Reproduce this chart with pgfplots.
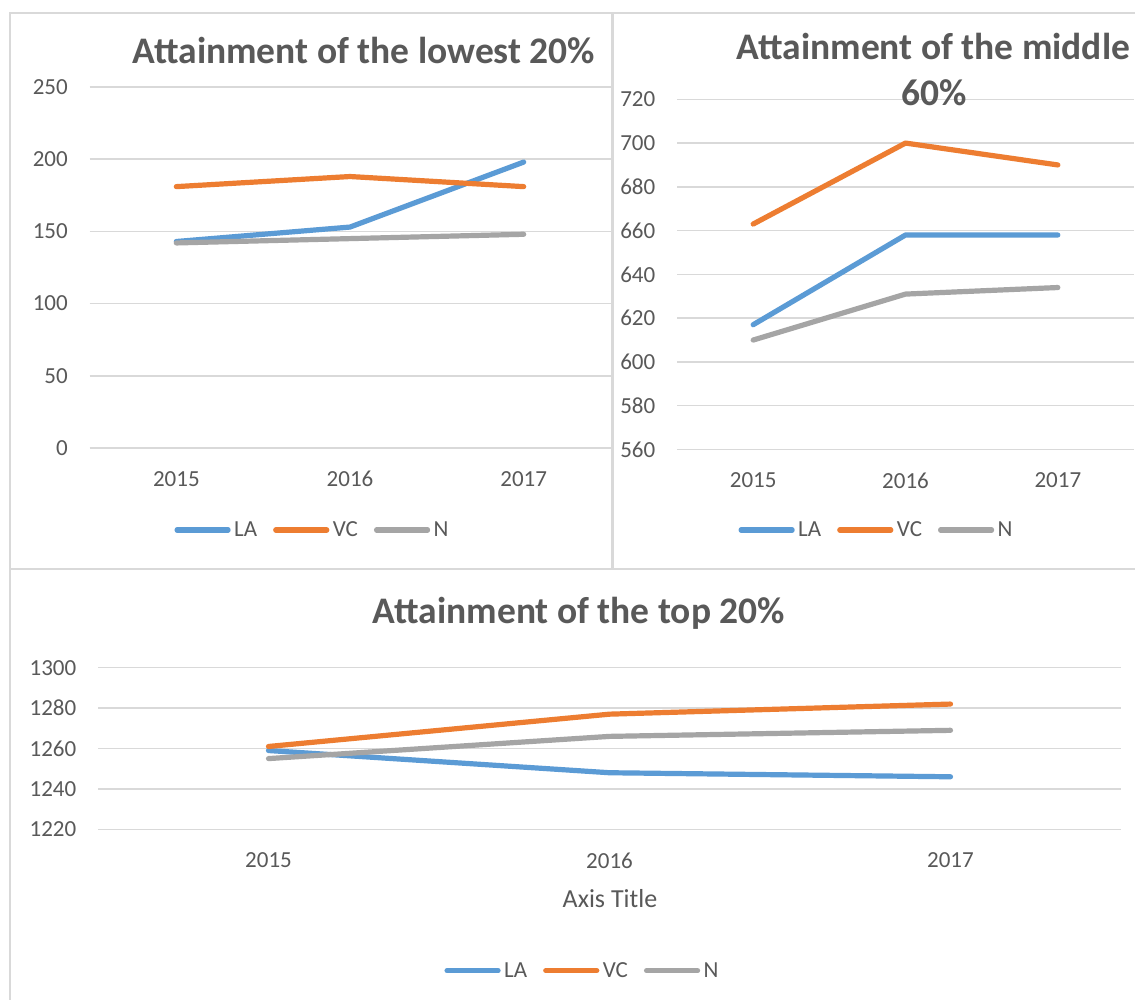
\documentclass[border=0pt]{standalone}
\usepackage{fontspec}
\setmainfont{Carlito}
\usepackage{pgfplots}
\pgfplotsset{compat=1.18}

\definecolor{laBlue}{HTML}{5B9BD5}
\definecolor{vcOrange}{HTML}{ED7D31}
\definecolor{nGray}{HTML}{A5A5A5}
\definecolor{txtGray}{HTML}{595959}
\definecolor{gridGray}{HTML}{D9D9D9}
\definecolor{frameGray}{HTML}{D9D9D9}

\newcommand{\tickfont}{\fontsize{23bp}{27bp}\selectfont}
\newcommand{\titlefont}{\fontsize{37.5bp}{44bp}\selectfont\bfseries}
\newcommand{\labelfont}{\fontsize{26bp}{30bp}\selectfont}

\pgfplotsset{
  legend image code/.code={\draw[#1, line cap=round] (0bp,0bp) -- (51bp,0bp);},
  attain/.style={
    scale only axis, enlargelimits=false,
    xmin=-0.5, xmax=2.5, xtick={0,1,2}, xticklabels={2015,2016,2017},
    axis line style={draw=none}, major tick length=0pt,
    ymajorgrids, grid style={gridGray, line width=1.5bp},
    tick label style={font=\tickfont, text=txtGray},
    yticklabel style={anchor=east, inner sep=0pt, xshift=-21.5bp},
    xticklabel style={anchor=north, inner sep=0pt, yshift=-23bp},
    /pgf/number format/1000 sep={},
    /pgf/number format/assume math mode=true,
    legend columns=3, legend cell align=left,
    legend style={draw=none, fill=none, inner sep=0pt, outer sep=0pt,
      anchor=west, font=\tickfont, text=txtGray, nodes={inner sep=0pt},
      /tikz/every odd column/.style={column sep=3.5bp},
      /tikz/every even column/.style={column sep=16bp}},
    every axis plot/.append style={line width=5.2bp, line cap=round, line join=round},
  },
}

\begin{document}
\begin{tikzpicture}
\path[use as bounding box, fill=white] (0bp,0bp) rectangle (1135bp,1000bp);

% chart frames
\draw[frameGray, line width=1.3bp] (10bp,0bp) -- (10bp,987bp) -- (1135bp,987bp);
\draw[frameGray, line width=3.5bp] (612.5bp,987bp) -- (612.5bp,431bp);
\draw[frameGray, line width=2.5bp] (10bp,431bp) -- (1135bp,431bp);

% lowest 20%
\begin{axis}[attain, at={(89.5bp,552bp)}, anchor=south west,
  width=521bp, height=361bp, ymin=0, ymax=250, ytick={0,50,...,250},
  legend style={at={(axis description cs:0.1631,-0.227)}}]
\addplot[laBlue]   coordinates {(0,143) (1,153) (2,198)};
\addplot[vcOrange] coordinates {(0,181) (1,188) (2,181)};
\addplot[nGray]    coordinates {(0,142) (1,145) (2,148)};
\legend{LA,VC,N}
\end{axis}

% middle 60%
\begin{axis}[attain, at={(677bp,550.5bp)}, anchor=south west,
  width=457bp, height=350.2bp, ymin=560, ymax=720, ytick={560,580,...,720},
  legend style={at={(axis description cs:0.1346,-0.2299)}}]
\addplot[laBlue]   coordinates {(0,617) (1,658) (2,658)};
\addplot[vcOrange] coordinates {(0,663) (1,700) (2,690)};
\addplot[nGray]    coordinates {(0,610) (1,631) (2,634)};
\legend{LA,VC,N}
\end{axis}

% top 20%
\begin{axis}[attain, at={(98bp,170.7bp)}, anchor=south west,
  width=1023bp, height=161.6bp, ymin=1220, ymax=1300, ytick={1220,1240,...,1300},
  legend style={at={(axis description cs:0.3387,-0.875)}}]
\addplot[laBlue]   coordinates {(0,1259) (1,1248) (2,1246)};
\addplot[vcOrange] coordinates {(0,1261) (1,1277) (2,1282)};
\addplot[nGray]    coordinates {(0,1255) (1,1266) (2,1269)};
\legend{LA,VC,N}
\end{axis}

% titles
\node[anchor=base, font=\titlefont, text=txtGray, inner sep=0pt] at (364bp,936.4bp) {Attainment of the lowest 20\%};
\node[anchor=base, font=\titlefont, text=txtGray, inner sep=0pt] at (933.5bp,940bp) {Attainment of the middle};
\node[anchor=base, font=\titlefont, text=txtGray, inner sep=0pt] at (933.7bp,894.5bp) {60\%};
\node[anchor=base, font=\titlefont, text=txtGray, inner sep=0pt] at (579bp,376bp) {Attainment of the top 20\%};
\node[anchor=base, font=\labelfont, text=txtGray, inner sep=0pt] at (610bp,92bp) {Axis Title};
\end{tikzpicture}
\end{document}
